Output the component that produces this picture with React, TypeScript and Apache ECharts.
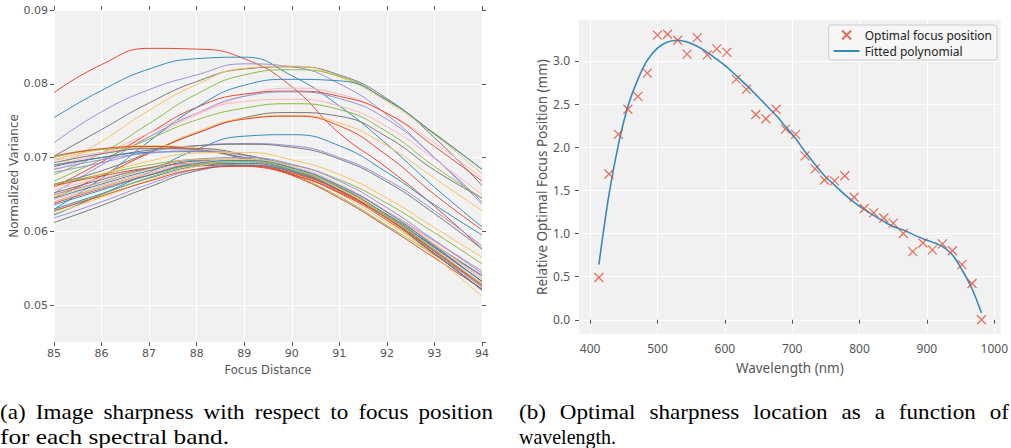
import React, { useEffect, useRef } from "react";
import * as echarts from "echarts";

// ---------- Left panel: normalized variance vs focus distance ----------
const FOCUS_X = [85, 86, 87, 88, 89, 90, 91, 92, 93, 94];

const VARIANCE_CURVES: number[][] = [
  [0.0788, 0.0826, 0.0848, 0.0847, 0.0834, 0.0796, 0.0733, 0.0686, 0.0634, 0.0576],
  [0.0754, 0.0791, 0.082, 0.0834, 0.0836, 0.0811, 0.077, 0.0718, 0.066, 0.0606],
  [0.072, 0.0762, 0.0792, 0.0812, 0.0827, 0.0823, 0.08, 0.0758, 0.07, 0.0637],
  [0.0702, 0.0738, 0.0774, 0.0803, 0.082, 0.0823, 0.0812, 0.078, 0.0727, 0.0662],
  [0.0685, 0.0722, 0.0764, 0.0799, 0.0821, 0.0824, 0.0809, 0.0776, 0.0731, 0.0678],
  [0.0677, 0.0706, 0.0746, 0.0786, 0.0812, 0.0819, 0.081, 0.0778, 0.0733, 0.0684],
  [0.069, 0.0705, 0.0728, 0.0758, 0.0783, 0.0794, 0.0786, 0.076, 0.072, 0.0672],
  [0.066, 0.0694, 0.0733, 0.0768, 0.0786, 0.079, 0.0783, 0.076, 0.0715, 0.0668],
  [0.063, 0.0672, 0.0722, 0.0768, 0.0798, 0.0806, 0.0804, 0.0778, 0.0732, 0.0684],
  [0.0652, 0.069, 0.0728, 0.076, 0.0783, 0.0789, 0.078, 0.0752, 0.07, 0.064],
  [0.0664, 0.0682, 0.0707, 0.0733, 0.0754, 0.0761, 0.0756, 0.0728, 0.0683, 0.0645],
  [0.0648, 0.0675, 0.0706, 0.0735, 0.0753, 0.0757, 0.0747, 0.0716, 0.0672, 0.0628],
  [0.0668, 0.0697, 0.0725, 0.0751, 0.0767, 0.0773, 0.0765, 0.0735, 0.0688, 0.0645],
  [0.0683, 0.0705, 0.0733, 0.076, 0.0776, 0.0779, 0.077, 0.0742, 0.0698, 0.065],
  [0.0645, 0.0675, 0.0706, 0.0733, 0.0752, 0.0756, 0.0743, 0.0703, 0.065, 0.0602],
  [0.0622, 0.065, 0.068, 0.0711, 0.0729, 0.0731, 0.0716, 0.068, 0.0636, 0.0595],
  [0.068, 0.0693, 0.0708, 0.0716, 0.0719, 0.0716, 0.07, 0.067, 0.0628, 0.058],
  [0.069, 0.07, 0.071, 0.0716, 0.0718, 0.0714, 0.0698, 0.0667, 0.0624, 0.0576],
  [0.0697, 0.0711, 0.0716, 0.0713, 0.0702, 0.0682, 0.0651, 0.0612, 0.057, 0.053],
  [0.07, 0.0711, 0.0713, 0.071, 0.0698, 0.0677, 0.0647, 0.0608, 0.0568, 0.0528],
  [0.0696, 0.0707, 0.0712, 0.0709, 0.0699, 0.068, 0.0653, 0.0618, 0.0578, 0.0538],
  [0.0702, 0.0712, 0.0715, 0.0711, 0.0698, 0.0676, 0.0645, 0.0606, 0.0564, 0.0522],
  [0.0688, 0.07, 0.0707, 0.0708, 0.07, 0.0682, 0.0655, 0.062, 0.058, 0.054],
  [0.0684, 0.0697, 0.0706, 0.0709, 0.0703, 0.0688, 0.0662, 0.0627, 0.0587, 0.0546],
  [0.0693, 0.0705, 0.0712, 0.0712, 0.0704, 0.0686, 0.0659, 0.0623, 0.0582, 0.054],
  [0.066, 0.0678, 0.0695, 0.0706, 0.0707, 0.0697, 0.0677, 0.0645, 0.0605, 0.0565],
  [0.0664, 0.0677, 0.069, 0.0697, 0.0698, 0.069, 0.067, 0.0638, 0.0598, 0.0556],
  [0.0656, 0.0672, 0.0685, 0.0693, 0.0692, 0.0682, 0.066, 0.0626, 0.0586, 0.0545],
  [0.0662, 0.0675, 0.0686, 0.0692, 0.0689, 0.0677, 0.0653, 0.0618, 0.0574, 0.0528],
  [0.0645, 0.0664, 0.0682, 0.0695, 0.0696, 0.0685, 0.066, 0.0622, 0.0578, 0.0532],
  [0.065, 0.0667, 0.0685, 0.0698, 0.07, 0.0691, 0.0668, 0.0632, 0.0588, 0.0543],
  [0.0652, 0.067, 0.0686, 0.0696, 0.0695, 0.0683, 0.0659, 0.0622, 0.0578, 0.0532],
  [0.0647, 0.0666, 0.0684, 0.0697, 0.0697, 0.0685, 0.0662, 0.0627, 0.0583, 0.0535],
  [0.064, 0.066, 0.0678, 0.069, 0.069, 0.0679, 0.0656, 0.062, 0.0575, 0.0528],
  [0.0643, 0.0662, 0.068, 0.0692, 0.0693, 0.0682, 0.0658, 0.0621, 0.0576, 0.0529],
  [0.0638, 0.0658, 0.0676, 0.0689, 0.0689, 0.0677, 0.0652, 0.0615, 0.0569, 0.0521],
  [0.063, 0.0651, 0.0672, 0.0688, 0.0692, 0.0682, 0.0656, 0.0617, 0.057, 0.052],
  [0.0618, 0.064, 0.0664, 0.0684, 0.069, 0.0681, 0.0656, 0.0618, 0.0572, 0.0524],
  [0.0612, 0.0635, 0.066, 0.0682, 0.0689, 0.0681, 0.0656, 0.0617, 0.057, 0.0521],
  [0.0624, 0.0646, 0.0669, 0.0688, 0.0695, 0.0685, 0.0658, 0.0617, 0.0566, 0.0512],
  [0.0627, 0.065, 0.0673, 0.069, 0.0694, 0.0684, 0.0659, 0.0621, 0.0575, 0.0526],
  [0.064, 0.0659, 0.0678, 0.0693, 0.0697, 0.0688, 0.0664, 0.0627, 0.0582, 0.0535],
  [0.0628, 0.0648, 0.0668, 0.0684, 0.0688, 0.0679, 0.0655, 0.0618, 0.0573, 0.0526],
  [0.0636, 0.0656, 0.0676, 0.0692, 0.0696, 0.0686, 0.0662, 0.0626, 0.058, 0.0532],
];

const LINE_COLORS = ["#E24A33", "#348ABD", "#988ED5", "#777777", "#FBC15E", "#8EBA42", "#FFB5B8"];

// ---------- Right panel: optimal focus vs wavelength ----------
const WAVELENGTH = [
  413, 428, 442, 456, 471, 485, 500, 515, 530, 544, 559, 574, 588, 603, 617, 632, 646, 661, 676, 690,
  705, 719, 734, 748, 763, 778, 792, 807, 821, 836, 850, 865, 879, 894, 908, 923, 938, 952, 967, 981,
];
const OPTIMAL_FOCUS = [
  0.49, 1.69, 2.15, 2.44, 2.59, 2.86, 3.3, 3.31, 3.24, 3.08, 3.27, 3.07, 3.14, 3.1, 2.79, 2.67, 2.38, 2.33, 2.44, 2.21,
  2.15, 1.9, 1.75, 1.62, 1.61, 1.67, 1.42, 1.29, 1.24, 1.18, 1.12, 1.0, 0.79, 0.89, 0.81, 0.88, 0.8, 0.64, 0.42, 0.0,
];
const FITTED_POLY = [
  0.64, 1.45, 2.03, 2.47, 2.79, 3.01, 3.15, 3.22, 3.24, 3.22, 3.17, 3.1, 3.02, 2.93, 2.83, 2.72, 2.61, 2.49, 2.37, 2.24,
  2.1, 1.95, 1.8, 1.67, 1.56, 1.45, 1.36, 1.28, 1.21, 1.14, 1.08, 1.04, 0.99, 0.94, 0.9, 0.85, 0.75, 0.58, 0.36, 0.08,
];
const WL_TICKS = [400, 500, 600, 700, 800, 900, 1000];
const FOCUS_TICKS = [0, 0.5, 1.0, 1.5, 2.0, 2.5, 3.0];

const CAPTION_A1 = "(a) Image sharpness with respect to focus position";
const CAPTION_A2 = "for each spectral band.";
const CAPTION_B1 = "(b) Optimal sharpness location as a function of";
const CAPTION_B2 = "wavelength.";

const SANS = "DejaVu Sans";
const SANS_R = "Noto Sans";
const SERIF = "Liberation Serif";
const TICK = "#555555";
const BG = "#F1F1F1";
const CAPTION_SIZE = 21;
const CAPTION_STRETCH = 1.1;

function measureText(text: string): number {
  const ctx = document.createElement("canvas").getContext("2d");
  if (!ctx) return text.length * CAPTION_SIZE * 0.45;
  ctx.font = `${CAPTION_SIZE}px "${SERIF}"`;
  return ctx.measureText(text).width;
}

function captionWord(text: string, x: number, y: number, scaleX: number) {
  return {
    type: "text",
    x,
    y,
    scaleX,
    style: {
      text,
      fontFamily: SERIF,
      fontSize: CAPTION_SIZE,
      fill: "#000",
      verticalAlign: "middle",
      align: "left",
    },
  };
}

// justified caption line: words spread between left and right edges
function justifiedLine(text: string, left: number, right: number, y: number) {
  const words = text.split(" ");
  const widths = words.map((w) => measureText(w) * CAPTION_STRETCH);
  const total = widths.reduce((a, b) => a + b, 0);
  const gap = (right - left - total) / (words.length - 1);
  const out: any[] = [];
  let x = left;
  words.forEach((w, i) => {
    out.push(captionWord(w, x, y, CAPTION_STRETCH));
    x += widths[i] + gap;
  });
  return out;
}

// last line of a paragraph: natural spacing, fitted to the width seen in the figure
function fittedLine(text: string, left: number, right: number, y: number) {
  const s = (right - left) / measureText(text);
  return captionWord(text, left, y, s);
}

export default function App() {
  const ref = useRef<HTMLDivElement>(null);

  useEffect(() => {
    if (!ref.current) return;
    const chart = echarts.init(ref.current, null, { renderer: "svg" });

    const leftSeries = VARIANCE_CURVES.map((curve, i) => ({
      type: "line",
      xAxisIndex: 0,
      yAxisIndex: 0,
      data: FOCUS_X.map((x, j) => [x, curve[j]]),
      smooth: true,
      symbol: "none",
      lineStyle: { width: 1, color: LINE_COLORS[i % LINE_COLORS.length] },
      itemStyle: { color: LINE_COLORS[i % LINE_COLORS.length] },
      silent: true,
      z: 2,
    }));

    const crossPath = "path://M0,0L10,10M10,0L0,10";

    const option: any = {
      animation: false,
      grid: [
        { left: 54, top: 10, width: 428, height: 332, show: true, backgroundColor: BG, borderWidth: 0 },
        { left: 579, top: 20, width: 424, height: 314, show: true, backgroundColor: BG, borderWidth: 0 },
      ],
      xAxis: [
        {
          type: "value",
          gridIndex: 0,
          min: 85,
          max: 94,
          interval: 1,
          name: "Focus Distance",
          nameLocation: "middle",
          nameGap: 22,
          nameTextStyle: { fontFamily: SANS, fontSize: 11.5, color: TICK },
          axisLine: { show: false },
          axisTick: { show: true, length: 4, lineStyle: { color: TICK } },
          axisLabel: { fontFamily: SANS, fontSize: 11, color: TICK, margin: 6 },
          splitLine: { show: true, lineStyle: { color: "#FFFFFF", width: 1 } },
        },
        {
          type: "value",
          gridIndex: 0,
          position: "top",
          min: 85,
          max: 94,
          interval: 1,
          axisLine: { show: false },
          axisTick: { show: true, length: 4, lineStyle: { color: TICK } },
          axisLabel: { show: false },
          splitLine: { show: false },
        },
        {
          type: "value",
          gridIndex: 1,
          min: 383.5,
          max: 1009.5,
          name: "Wavelength (nm)",
          nameLocation: "middle",
          nameGap: 27,
          nameTextStyle: { fontFamily: SANS_R, fontSize: 13.5, color: TICK },
          axisLine: { show: false },
          axisTick: { show: true, length: 4, lineStyle: { color: TICK }, customValues: WL_TICKS },
          axisLabel: {
            fontFamily: SANS_R,
            fontSize: 12,
            color: TICK,
            margin: 8,
            customValues: WL_TICKS,
            formatter: (v: number) => String(Math.round(v)),
          },
          splitLine: { show: true, lineStyle: { color: "#FFFFFF", width: 1 } },
        },
      ],
      yAxis: [
        {
          type: "value",
          gridIndex: 0,
          min: 0.045,
          max: 0.09,
          splitNumber: 5,
          name: "Normalized Variance",
          nameLocation: "middle",
          nameGap: 34,
          nameTextStyle: { fontFamily: SANS, fontSize: 12, color: TICK },
          axisLine: { show: false },
          axisTick: { show: true, length: 4, lineStyle: { color: TICK } },
          axisLabel: {
            fontFamily: SANS,
            fontSize: 11,
            color: TICK,
            margin: 6,
            showMinLabel: false,
            formatter: (v: number) => v.toFixed(2),
          },
          splitLine: { show: true, lineStyle: { color: "#FFFFFF", width: 1 } },
        },
        {
          type: "value",
          gridIndex: 0,
          position: "right",
          min: 0.045,
          max: 0.09,
          splitNumber: 5,
          axisLine: { show: false },
          axisTick: { show: true, length: 4, lineStyle: { color: TICK } },
          axisLabel: { show: false },
          splitLine: { show: false },
        },
        {
          type: "value",
          gridIndex: 1,
          min: -0.165,
          max: 3.475,
          splitNumber: 7,
          name: "Relative Optimal Focus Position (mm)",
          nameLocation: "middle",
          nameGap: 30,
          nameTextStyle: { fontFamily: SANS_R, fontSize: 13.5, color: TICK },
          axisLine: { show: false },
          axisTick: { show: true, length: 4, lineStyle: { color: TICK }, customValues: FOCUS_TICKS },
          axisLabel: {
            fontFamily: SANS_R,
            fontSize: 12,
            color: TICK,
            margin: 9,
            customValues: FOCUS_TICKS,
            formatter: (v: number) => v.toFixed(1),
          },
          splitLine: { show: true, lineStyle: { color: "#FFFFFF", width: 1 } },
        },
      ],
      legend: {
        show: true,
        orient: "vertical",
        right: 14,
        top: 25,
        backgroundColor: "#F6F6F6",
        borderColor: "#CCCCCC",
        borderWidth: 1,
        borderRadius: 3,
        padding: [3, 5, 3, 4],
        itemWidth: 26,
        itemHeight: 9,
        itemGap: 3,
        selectedMode: false,
        textStyle: { fontFamily: SANS_R, fontSize: 12, color: "#222222" },
        data: [
          { name: "Optimal focus position" },
          { name: "Fitted polynomial", itemStyle: { opacity: 0 } },
        ],
      },
      series: [
        ...leftSeries,
        {
          name: "Fitted polynomial",
          type: "line",
          xAxisIndex: 2,
          yAxisIndex: 2,
          data: WAVELENGTH.map((w, i) => [w, FITTED_POLY[i]]),
          smooth: 0.3,
          symbol: "none",
          lineStyle: { width: 1.6, color: "#348ABD" },
          itemStyle: { color: "#348ABD" },
          z: 3,
        },
        {
          name: "Optimal focus position",
          type: "scatter",
          xAxisIndex: 2,
          yAxisIndex: 2,
          data: WAVELENGTH.map((w, i) => [w, OPTIMAL_FOCUS[i]]),
          symbol: crossPath,
          symbolSize: 9,
          itemStyle: { color: "none", borderColor: "#E24A33", borderWidth: 1.2 },
          z: 4,
        },
      ],
      graphic: [
        ...justifiedLine(CAPTION_A1, 0, 493, 412),
        fittedLine(CAPTION_A2, 0, 229, 437),
        ...justifiedLine(CAPTION_B1, 519, 1009, 412),
        fittedLine(CAPTION_B2, 519, 616, 437),
      ],
    };

    chart.setOption(option);
    return () => chart.dispose();
  }, []);

  return (
    <div
      ref={ref}
      style={{ position: "fixed", left: 0, top: 0, width: 1011, height: 448, background: "#FFFFFF" }}
    />
  );
}
